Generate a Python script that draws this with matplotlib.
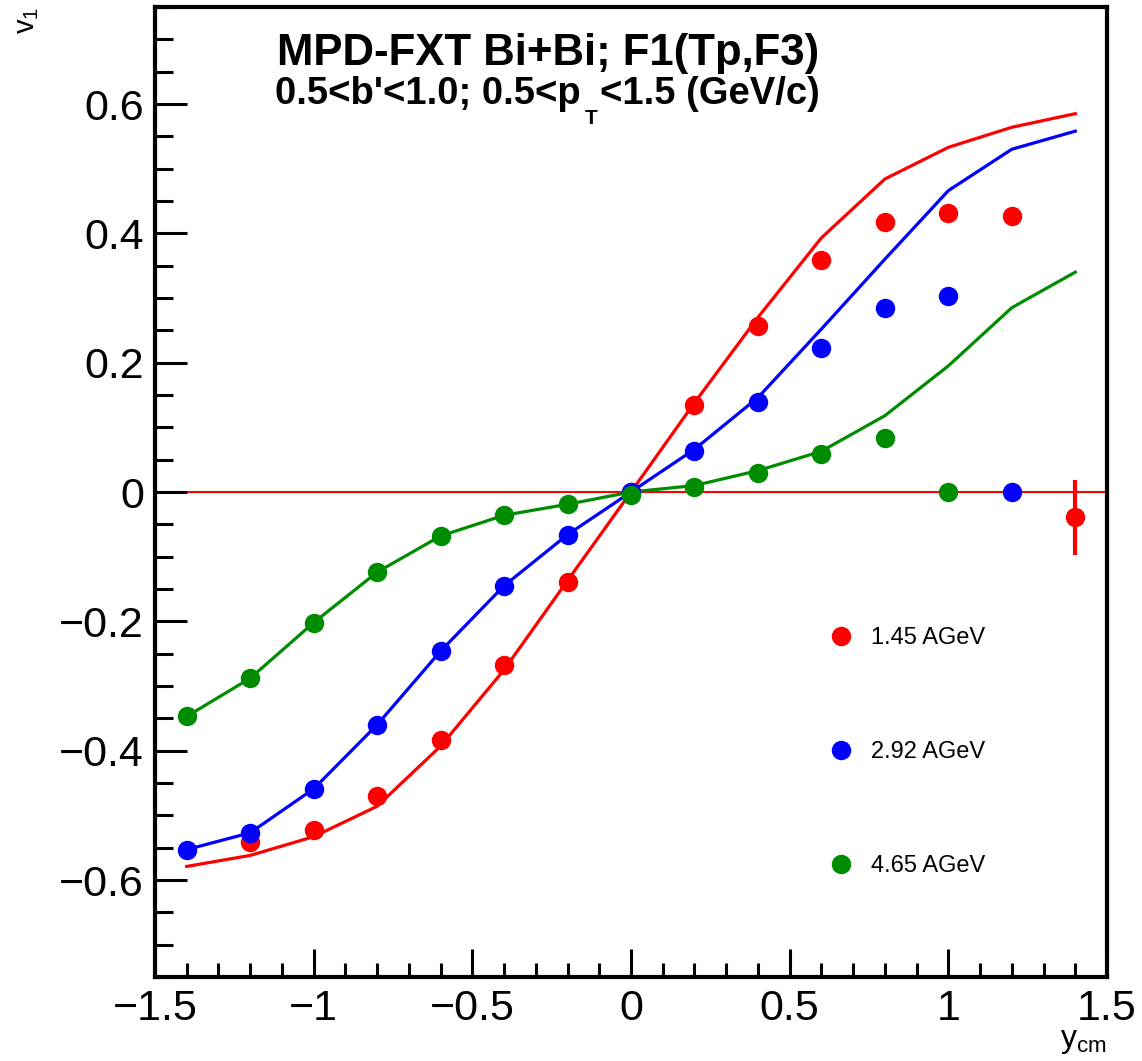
#!/usr/bin/env python
"""Directed flow v1 vs. rapidity for Bi+Bi at three beam energies (MPD-FXT)."""

import numpy as np
import matplotlib
matplotlib.use("Agg")
import matplotlib.pyplot as plt
from matplotlib.lines import Line2D
from matplotlib.ticker import MultipleLocator, FixedLocator, FixedFormatter

#+++ Data
ycm = [-1.4, -1.2, -1.0, -0.8, -0.6, -0.4, -0.2, 0.0, 0.2, 0.4, 0.6, 0.8, 1.0, 1.2, 1.4]

energies = ["1.45 AGeV", "2.92 AGeV", "4.65 AGeV"]

# measured points
v1_145 = [np.nan, -0.541, -0.522, -0.470, -0.383, -0.268, -0.139, 0.0,
          0.134, 0.257, 0.358, 0.418, 0.432, 0.427, -0.039]
err_145 = [0, 0, 0, 0, 0, 0, 0, 0, 0, 0, 0, 0, 0, 0, 0.058]
v1_292 = [-0.553, -0.527, -0.459, -0.360, -0.246, -0.145, -0.066, 0.0,
          0.064, 0.139, 0.222, 0.284, 0.303, 0.0, np.nan]
v1_465 = [-0.347, -0.288, -0.202, -0.124, -0.068, -0.036, -0.019, -0.005,
          0.008, 0.030, 0.059, 0.084, 0.0, np.nan, np.nan]

# model curves
model_145 = [-0.579, -0.562, -0.533, -0.486, -0.393, -0.275, -0.137, 0.0,
             0.138, 0.270, 0.393, 0.484, 0.533, 0.564, 0.585]
model_292 = [-0.553, -0.527, -0.459, -0.360, -0.246, -0.145, -0.066, 0.0,
             0.066, 0.146, 0.252, 0.360, 0.466, 0.530, 0.558]
model_465 = [-0.347, -0.288, -0.202, -0.124, -0.068, -0.036, -0.019, 0.0,
             0.010, 0.033, 0.063, 0.118, 0.195, 0.285, 0.340]

xticks = [-1.5, -1.0, -0.5, 0.0, 0.5, 1.0, 1.5]
xticklabels = ["\u22121.5", "\u22121", "\u22120.5", "0", "0.5", "1", "1.5"]
yticks = [-0.6, -0.4, -0.2, 0.0, 0.2, 0.4, 0.6]
yticklabels = ["\u22120.6", "\u22120.4", "\u22120.2", "0", "0.2", "0.4", "0.6"]
#---

#+++ Style
plt.rcParams["font.family"] = ["Liberation Sans", "DejaVu Sans"]
plt.rcParams["mathtext.fontset"] = "custom"
plt.rcParams["mathtext.rm"] = "Liberation Sans"
plt.rcParams["mathtext.bf"] = "Liberation Sans:bold"
plt.rcParams["mathtext.it"] = "Liberation Sans:italic"

RED, BLUE, GREEN = "#ff0000", "#0000ff", "#008c00"
#---

W, H = 1142, 1061
fig = plt.figure(figsize=(W / 100, H / 100), dpi=100)
ax = fig.add_axes([155 / W, 1 - 977 / H, (1107 - 155) / W, (977 - 7) / H])

ax.axhline(0, color=RED, lw=1.5, zorder=1)

series = [(v1_145, model_145, RED), (v1_292, model_292, BLUE), (v1_465, model_465, GREEN)]
for pts, model, col in series:
    ax.plot(ycm, model, color=col, lw=2.3, zorder=2)
for (pts, model, col), err in zip(series, [err_145, None, None]):
    ax.errorbar(ycm, pts, yerr=err, fmt="o", color=col, ms=14, mew=0,
                elinewidth=3, capsize=0, zorder=3)

ax.set_xlim(-1.5, 1.5)
ax.set_ylim(-0.75, 0.75)

ax.xaxis.set_major_locator(FixedLocator(xticks))
ax.xaxis.set_major_formatter(FixedFormatter(xticklabels))
ax.xaxis.set_minor_locator(MultipleLocator(0.1))
ax.yaxis.set_major_locator(FixedLocator(yticks))
ax.yaxis.set_major_formatter(FixedFormatter(yticklabels))
ax.yaxis.set_minor_locator(MultipleLocator(0.05))

ax.tick_params(axis="x", which="major", direction="in", length=20, width=2.2, labelsize=31, pad=9)
ax.tick_params(axis="x", which="minor", direction="in", length=10, width=2.2)
ax.tick_params(axis="y", which="major", direction="in", length=23, width=2.2, labelsize=31, pad=8)
ax.tick_params(axis="y", which="minor", direction="in", length=13, width=2.2)
for sp in ax.spines.values():
    sp.set_linewidth(3)

# axis titles in ROOT placement: y at top-left, x at bottom-right
fig.text(27 / W, 1 - 7 / H, r"$\mathrm{v}_1$", rotation=90, ha="center", va="top", fontsize=21)
fig.text(1107 / W, 1 - 1026 / H, r"$\mathrm{y}_\mathrm{cm}$", ha="right", va="top", fontsize=23)

#+++ Header text -- second line built in pieces so the p_T subscript sits low like ROOT's
ax.text((277 - 155) / 952, (977 - 65) / 970, "MPD-FXT Bi+Bi; F1(Tp,F3)", transform=ax.transAxes,
        fontsize=31.5, fontweight="bold", va="baseline")
t1 = ax.text((275 - 155) / 952, (977 - 104) / 970, "0.5<b'<1.0; 0.5<p", transform=ax.transAxes,
             fontsize=27.5, fontweight="bold", va="baseline")
t2 = ax.annotate("T", xy=(1, 0), xycoords=t1, xytext=(3, 2), textcoords="offset points",
                 fontsize=15, fontweight="bold", ha="left", va="top")
ax.annotate("<1.5 (GeV/c)", xy=(1, 0), xycoords=(t2, t1), xytext=(2, 0), textcoords="offset points",
            fontsize=27.5, fontweight="bold", ha="left", va="bottom")
#---

handles = [Line2D([], [], ls="none", marker="o", ms=14, mew=0, color=c) for c in (RED, BLUE, GREEN)]
leg = ax.legend(handles, energies, frameon=False, fontsize=17, handlelength=1.0,
                handletextpad=0.75, labelspacing=3.9, borderpad=0.4,
                loc="upper left", bbox_to_anchor=((808 - 155) / 952, (977 - 606) / 970))

fig.savefig("out.png", dpi=100)
